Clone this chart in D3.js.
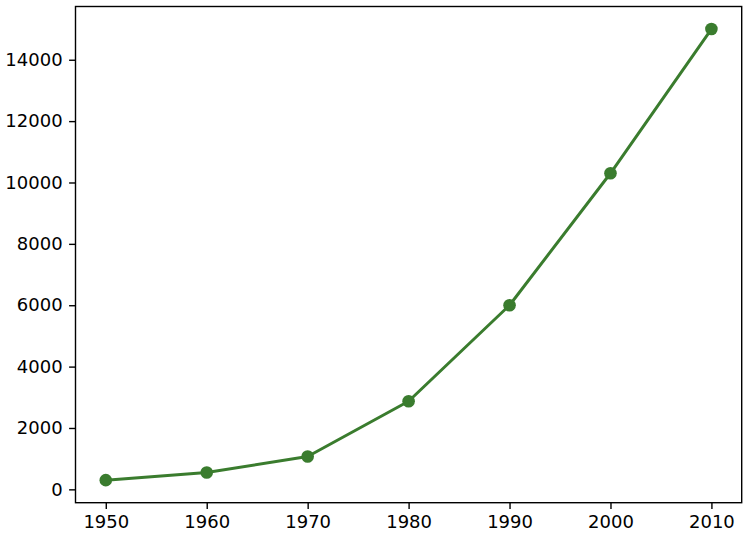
<!DOCTYPE html>
<html><head><meta charset="utf-8">
<script src="https://cdn.jsdelivr.net/npm/d3@7"></script>
<style>body{margin:0;background:#fff}svg{display:block}</style>
</head><body>
<svg id="c" width="748" height="540"></svg>
<script>
const years = [1950, 1960, 1970, 1980, 1990, 2000, 2010];
const values = [300, 550, 1070, 2870, 6000, 10300, 15000];
const yTicks = [0, 2000, 4000, 6000, 8000, 10000, 12000, 14000];
const xTicks = [1950, 1960, 1970, 1980, 1990, 2000, 2010];

const svg = d3.select("#c");
const L = 75.5, R = 741.7, T = 6.5, B = 502.7;
const color = "#3a7c2e";
const font = "DejaVu Sans, sans-serif";

const x = d3.scaleLinear().domain([1947, 2013]).range([L, R]);
const ymin = 300 - 0.05 * (15000 - 300), ymax = 15000 + 0.05 * (15000 - 300);
const y = d3.scaleLinear().domain([ymin, ymax]).range([B, T]);

const xAxis = svg.append("g").attr("transform", `translate(0,${B})`)
  .call(d3.axisBottom(x).tickValues(xTicks).tickFormat(d3.format("d")).tickSize(6.4).tickPadding(6.5));
const yAxis = svg.append("g").attr("transform", `translate(${L},0)`)
  .call(d3.axisLeft(y).tickValues(yTicks).tickFormat(d3.format("d")).tickSize(6.4).tickPadding(6.5));
[xAxis, yAxis].forEach(a => {
  a.select(".domain").remove();
  a.selectAll(".tick line").attr("stroke", "#000").attr("stroke-width", 1.4);
  a.selectAll("text").attr("fill", "#000").style("font-family", font).style("font-size", "18px");
});

const line = d3.line().x((d, i) => x(years[i])).y(d => y(d));
svg.append("path").datum(values).attr("d", line)
  .attr("fill", "none").attr("stroke", color).attr("stroke-width", 3).attr("stroke-linejoin", "round");
svg.selectAll("circle.pt").data(values).join("circle").attr("class", "pt")
  .attr("cx", (d, i) => x(years[i])).attr("cy", d => y(d)).attr("r", 6.3).attr("fill", color);

svg.append("rect").attr("x", L).attr("y", T).attr("width", R - L).attr("height", B - T)
  .attr("fill", "none").attr("stroke", "#000").attr("stroke-width", 1.4);
</script>
</body></html>
